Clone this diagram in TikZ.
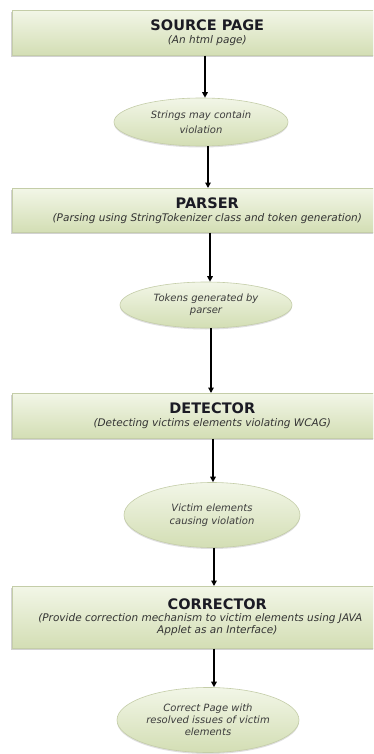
\documentclass[tikz,border=0pt]{standalone}
\usepackage{fontspec}
\setmainfont{DejaVu Sans}
\usetikzlibrary{shapes.geometric,shadows,arrows.meta}

\definecolor{boxtop}{HTML}{F2F6E7}
\definecolor{boxbot}{HTML}{D3DEB4}
\definecolor{boxedge}{HTML}{C4CDA8}
\definecolor{titleink}{HTML}{1B1B24}
\definecolor{subink}{HTML}{333333}
\definecolor{ovalink}{HTML}{3C3C3C}

\newcommand{\titlef}{\fontsize{14.5}{17}\selectfont\bfseries\color{titleink}}
\newcommand{\subf}{\fontsize{10.5}{13}\selectfont\itshape\color{subink}}
\newcommand{\ovalf}{\fontsize{10}{13}\selectfont\itshape\color{ovalink}}

\begin{document}
\begin{tikzpicture}[x=1pt,y=-1pt,
  stagebox/.style={draw=boxedge, line width=0.6pt, top color=boxtop,
    bottom color=boxbot, anchor=north west, align=center, inner sep=0pt,
    drop shadow={shadow xshift=-1.2pt, shadow yshift=-1.8pt, opacity=0.35}},
  oval/.style={ellipse, draw=boxedge, line width=0.6pt, top color=boxtop,
    bottom color=boxbot, align=center, inner sep=0pt,
    drop shadow={shadow xshift=0pt, shadow yshift=-1.5pt, opacity=0.25}},
  flow/.style={line width=1.6pt, black,
    -{Triangle[length=5.5pt,width=5.5pt]}}]

\useasboundingbox (0,0) rectangle (373,754);
\fill[white] (0,0) rectangle (373,754);
\clip (0,0) rectangle (373,754);

% processing stages
\node[stagebox, minimum width=390pt, minimum height=45pt] (src) at (12,10)
  {\titlef SOURCE PAGE\\[1pt]\subf (An html page)};
\node[stagebox, minimum width=390pt, minimum height=44pt] (parser) at (12,188)
  {\titlef PARSER\\[1pt]\subf (Parsing using StringTokenizer class and token generation)};
\node[stagebox, minimum width=400pt, minimum height=45pt] (detector) at (12,393)
  {\titlef DETECTOR\\[1pt]\subf (Detecting victims elements violating WCAG)};
\node[stagebox, minimum width=410pt, minimum height=62pt] (corrector) at (12,586)
  {\titlef CORRECTOR\\[0pt]\subf\hspace*{-34pt}(Provide correction mechanism to victim elements using JAVA\\\subf Applet as an Interface)};

% intermediate results
\node[oval, minimum width=174pt, minimum height=48pt] (strings) at (201,122)
  {\ovalf Strings may contain\\[3pt]\ovalf violation};
\node[oval, minimum width=172pt, minimum height=46pt] (tokens) at (206,305)
  {\ovalf Tokens generated by\\\ovalf parser};
\node[oval, minimum width=176pt, minimum height=65pt] (victims) at (212,515)
  {\ovalf Victim elements\\[1pt]\ovalf causing violation};
\node[oval, minimum width=182pt, minimum height=65pt] (result) at (208,720)
  {\ovalf Correct Page with\\\ovalf resolved issues of victim\\\ovalf elements};

% flow between stages
\draw[flow] (src.south -| 205,0) -- (strings.north -| 205,0);
\draw[flow] (strings.south -| 208,0) -- (parser.north -| 208,0);
\draw[flow] (parser.south -| 210,0) -- (tokens.north -| 210,0);
\draw[flow] (tokens.south -| 211,0) -- (detector.north -| 211,0);
\draw[flow] (detector.south -| 213,0) -- (victims.north -| 213,0);
\draw[flow] (victims.south -| 214,0) -- (corrector.north -| 214,0);
\draw[flow] (corrector.south -| 214,0) -- (result.north -| 214,0);
\end{tikzpicture}
\end{document}
